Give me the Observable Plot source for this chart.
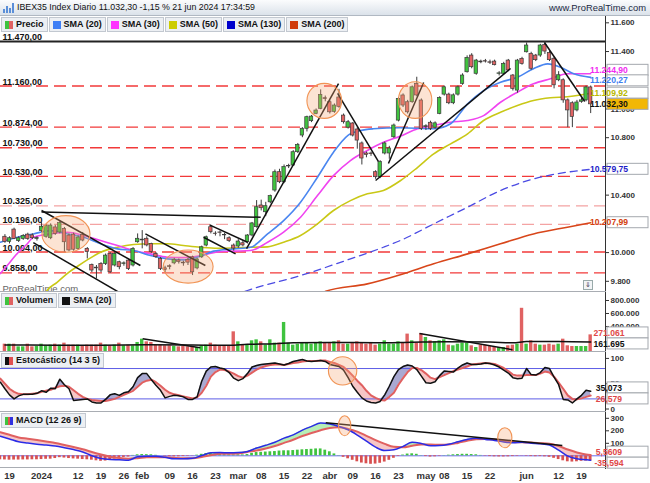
<!DOCTYPE html>
<html><head><meta charset="utf-8">
<script src="https://cdn.jsdelivr.net/npm/d3@7"></script>
<script src="https://cdn.jsdelivr.net/npm/@observablehq/plot@0.6"></script>
<style>
body{margin:0;background:#fff;}
#root{position:relative;width:650px;height:483px;overflow:hidden;font-family:"Liberation Sans",Arial,sans-serif;background:#fff}
.panel{position:absolute;left:0;width:650px}
.panel svg{display:block;overflow:visible}
.hdr{position:absolute;left:0;top:0;width:650px;height:16px;background:linear-gradient(#fbfcfd,#dbe2ea);border-bottom:1px solid #b0b8c2;box-sizing:border-box}
.hdr .t{position:absolute;left:17px;top:0;line-height:15px;font-size:8.8px;color:#111;white-space:nowrap}
.hdr .w{position:absolute;right:4px;top:0;line-height:15px;font-size:9.4px;color:#1c2a44;white-space:nowrap}
.legend{position:absolute;left:1px;display:flex;gap:1px}
.leg{height:13px;line-height:13px;border:1px solid #c2c8d0;background:#eceff3;font-size:9px;font-weight:bold;padding:0 3px 0 3px;display:flex;align-items:center;color:#111;white-space:nowrap}
.sw{width:8px;height:8px;margin-right:3px;display:inline-block}
.sep{position:absolute;left:0;width:606px;height:1px;background:#a9adb3}
.btn{position:absolute;left:583px;top:280px;width:8px;height:8px;border:1px solid #9aa;background:#f2f4f6;font-size:7px;line-height:8px;text-align:center;color:#445}
</style></head>
<body>
<div id="root">
  <div class="hdr"><svg width="12" height="12" style="position:absolute;left:3px;top:2px"><rect x="0" y="7" width="2" height="4" fill="#5b8fd8"/><rect x="3" y="4" width="2" height="7" fill="#5b8fd8"/><rect x="6" y="6" width="2" height="5" fill="#5b8fd8"/><rect x="9" y="1" width="2" height="10" fill="#5b8fd8"/></svg><div class="t">IBEX35 Index Diario 11.032,30 -1,15 % 21 jun 2024 17:34:59</div><div class="w">www.ProRealTime.com</div></div>
  <div id="p1" class="panel" style="top:16px"></div>
  <div id="p2" class="panel" style="top:292px"></div>
  <div id="p3" class="panel" style="top:352px"></div>
  <div id="p4" class="panel" style="top:412px"></div>
  <div class="sep" style="top:291px"></div>
  <div class="sep" style="top:351px"></div>
  <div class="sep" style="top:411px"></div>
  <div class="sep" style="top:467px"></div>
  <div class="legend" style="top:17px">
    <div class="leg"><span class="sw" style="background:linear-gradient(90deg,#3fc33f 50%,#e06262 50%)"></span>Precio</div>
    <div class="leg"><span class="sw" style="background:#3f7ff5"></span>SMA (20)</div>
    <div class="leg"><span class="sw" style="background:#ff33ff"></span>SMA (30)</div>
    <div class="leg"><span class="sw" style="background:#cccc00"></span>SMA (50)</div>
    <div class="leg"><span class="sw" style="background:#0000cc"></span>SMA (130)</div>
    <div class="leg"><span class="sw" style="background:#d03a0a"></span>SMA (200)</div>
  </div>
  <div class="legend" style="top:293px">
    <div class="leg"><span class="sw" style="background:linear-gradient(90deg,#3fc33f 50%,#e06262 50%)"></span>Volumen</div>
    <div class="leg"><span class="sw" style="background:#111"></span>SMA (20)</div>
  </div>
  <div class="legend" style="top:353px">
    <div class="leg"><span class="sw" style="background:linear-gradient(90deg,#111 50%,#e05050 50%)"></span>Estocástico (14 3 5)</div>
  </div>
  <div class="legend" style="top:413px">
    <div class="leg"><span class="sw" style="background:linear-gradient(90deg,#3fc33f 33%,#e05050 33%,#e05050 66%,#3030e0 66%)"></span>MACD (12 26 9)</div>
  </div>
  <div class="btn">&#8659;</div>
</div>
<script>
// ---------- DATA ----------
const holidays = ["2023-12-25","2023-12-26","2024-01-01","2024-03-29","2024-04-01","2024-05-01"];
const xTickDates = ["2023-12-19","2024-01-02","2024-01-12","2024-01-19","2024-01-26","2024-02-01","2024-02-09","2024-02-16","2024-02-23","2024-03-01","2024-03-08","2024-03-15","2024-03-22","2024-04-02","2024-04-09","2024-04-16","2024-04-23","2024-05-02","2024-05-08","2024-05-15","2024-05-22","2024-06-03","2024-06-12","2024-06-19"];
const xTickLabels = ["19","2024","12","19","26","feb","09","16","23","mar","08","15","22","abr","09","16","23","may","08","15","22","jun","12","19"];
// right-axis ticks that the reference leaves visible (the others sit under value tags)
const priceTicks = [9800, 10000, 10400, 10600, 10800, 11000, 11400, 11600];
const volumeTicks = [400, 600, 800];
const stochTicks = [0, 50, 100];
const macdTicks = [100, 200, 300];

// daily candles from 2023-12-18 to 2024-06-21
const open = [10110,10075,10160,10080,10095,10125,10120,10095,10150,10110,
10100,10175,10140,10165,10118,10125,10025,10123,10026,9914,
9895,9921,9921,9991,9910,9933,9921,9944,9910,10072,
10085,10096,10060,9991,9956,9890,9905,9925,9945,9930,
9950,9967,9890,9967,10049,10177,10132,10140,10123,10100,
10049,10042,10065,10072,10119,10177,10328,10281,10350,10432,
10560,10490,10600,10606,10699,10815,10862,10915,10966,11001,
11075,11047,10980,11080,10954,10870,10899,10857,10760,10690,
10690,10560,10525,10690,10690,10803,10919,11094,11047,11047,
11175,11059,10875,10904,10870,10966,11100,11100,11040,11100,
11175,11256,11372,11245,11330,11333,11325,11330,11245,11245,
11337,11233,11128,11349,11395,11384,11372,11372,11445,11390,
11350,11200,11200,11060,11040,10990,11050,11060,11150];
const high = [10125,10110,10170,10110,10125,10135,10130,10110,10210,10195,
10200,10190,10215,10175,10130,10135,10115,10140,10035,9920,
9910,9930,9990,10000,10000,9940,9935,9950,10035,10130,
10153,10110,10065,10000,9965,9905,9915,9960,9955,9940,
9960,9975,9960,10045,10115,10190,10145,10150,10135,10110,
10060,10090,10085,10125,10210,10362,10365,10350,10400,10575,
10580,10610,10615,10710,10760,10870,10950,10955,11000,11133,
11090,11060,11035,11137,10965,10920,10905,10870,10770,10700,
10700,10570,10640,10770,10740,10895,11080,11105,11060,11160,
11221,11070,10890,10915,10910,11085,11160,11110,11105,11160,
11245,11370,11385,11345,11340,11345,11340,11340,11260,11325,
11345,11240,11345,11360,11460,11395,11380,11450,11470,11400,
11360,11260,11210,11070,11050,11060,11075,11160,11160];
const low = [10065,10060,10090,10070,10085,10085,10090,10080,10140,10100,
10090,10120,10130,10003,10005,10010,10015,10075,9956,9860,
9817,9860,9910,9855,9900,9880,9905,9875,9900,10065,
10026,10040,9995,9960,9875,9860,9880,9915,9920,9905,
9910,9840,9880,9960,10040,10130,10115,10110,10090,10070,
10010,10030,10040,10060,10110,10170,10290,10250,10340,10420,
10480,10480,10585,10600,10690,10800,10840,10905,10960,10995,
11050,10965,10970,11005,10895,10860,10805,10720,10610,10660,
10670,10510,10515,10680,10650,10795,10910,11010,10965,11040,
11085,10850,10850,10850,10860,10960,11090,11030,11030,11090,
11165,11250,11280,11235,11315,11320,11310,11300,11230,11235,
11260,11125,11110,11305,11390,11270,11330,11360,11380,11330,
11140,11190,11040,10870,10870,10980,11040,11050,10968];
const close = [10075,10100,10095,10100,10115,10095,10100,10102,10180,10185,
10188,10130,10205,10072,10015,10020,10105,10084,10003,9875,
9890,9875,9979,9863,9991,9898,9925,9886,10026,10096,
10090,10050,10003,9968,9886,9880,9900,9950,9935,9925,
9930,9863,9952,10037,10107,10142,10130,10138,10120,10080,
10028,10077,10050,10119,10203,10316,10309,10323,10393,10560,
10490,10595,10603,10699,10750,10862,10943,10947,10989,11098,
11070,10977,11024,11015,10908,10908,10815,10780,10655,10680,
10686,10525,10630,10760,10725,10885,11070,11024,10977,11151,
11094,10860,10880,10862,10900,11077,11151,11040,11095,11151,
11233,11356,11291,11337,11325,11330,11322,11305,11248,11314,
11268,11140,11337,11314,11442,11280,11340,11442,11400,11340,
11165,11235,11060,10990,10945,11045,11060,11150,11032.30];

// volume (thousands), same days
const volumeK = [128,128,128,87,87,128,87,92,128,103,
113,128,113,144,113,113,113,92,113,113,
113,144,113,103,113,144,103,113,103,154,
205,164,154,113,113,103,103,92,87,92,
87,92,77,103,113,144,113,103,103,103,
318,164,113,113,180,195,164,113,195,144,
144,462,144,113,128,154,154,128,154,164,
144,144,164,180,128,128,144,164,144,128,
144,113,128,180,128,128,164,144,283,180,
144,292,231,180,164,180,195,113,103,128,
144,144,103,77,113,113,92,77,77,77,
103,113,128,680,128,180,128,113,113,128,
113,128,205,103,92,92,92,92,271.061];
const volumeSma = [[-1,115],[10,113],[20,112],[30,118],[40,115],[48,110],[52,125],[58,135],[62,150],[70,155],[80,150],[88,158],[95,165],[105,160],[110,150],[113,168],[120,170],[127,161.695]];

// moving averages of price, read at points along each curve [day index, value]
const sma20 = [[-2,10072],[1.7,10107],[5.2,10130],[9,10153],[12.7,10130],[16.2,10107],[19.9,10061],[23.6,10026],[27.1,10014],[30.8,9979],[34.5,9956],[38,9949],[41.7,9975],[44.6,10010],[49,10025],[52.7,10037],[56.4,10130],[59.9,10223],[63.6,10351],[67.3,10525],[70.8,10699],[73.9,10815],[76.7,10850],[79.5,10862],[85.4,10869],[92.7,10862],[96.4,10897],[100.1,11036],[103.6,11128],[107.3,11186],[111,11221],[114.5,11280],[117.6,11314],[120.4,11291],[123.3,11245],[127,11220.27]];
const sma30 = [[-2,9854],[-0.5,9910],[1.7,9994],[3.9,10061],[5.2,10107],[9,10130],[12.7,10142],[16.2,10119],[19.9,10084],[23.6,10049],[27.1,10014],[30.8,9991],[34.5,9968],[38,9965],[41.7,9979],[45.5,10005],[49,10010],[52.7,10014],[56.4,10072],[59.9,10142],[63.6,10246],[67.3,10397],[70.8,10536],[74.5,10641],[78.2,10711],[81.7,10768],[85.4,10810],[89.2,10862],[92.7,10885],[96.4,10908],[100.1,10920],[103.6,10954],[107.3,11047],[111,11117],[114.5,11175],[118.2,11210],[121.9,11245],[127,11244.90]];
const sma50 = [[7.5,9700],[8.2,9736],[10.4,9793],[12.6,9854],[14.8,9903],[17,9949],[19.9,10002],[23.6,10037],[27.1,10056],[30.8,10061],[34.5,10061],[38,10049],[41.7,10037],[45.5,10030],[49,10032],[52.7,10037],[56.4,10040],[59.9,10072],[63.6,10119],[67.3,10200],[70.8,10293],[74.5,10362],[78.2,10409],[81.7,10432],[85.4,10500],[89.2,10594],[92.7,10687],[96.4,10757],[100.1,10827],[103.6,10920],[107.3,10977],[111,11024],[114.5,11059],[118.2,11078],[121.9,11085],[127,11109.92]];
const sma130 = [[49,9700],[52,9736],[63.6,9840],[74.5,9956],[81.7,10037],[85.4,10084],[92.7,10200],[100.1,10316],[107.3,10432],[114.5,10513],[121.9,10560],[127,10579.75]];
const sma200 = [[68,9700],[69.1,9730],[78.2,9782],[85.4,9846],[92.7,9922],[100.1,9991],[107.3,10061],[114.5,10130],[121.9,10177],[127,10207.99]];

// horizontal support / resistance levels
const levels = [11470, 11160, 10874, 10730, 10530, 10325, 10196, 10004, 9858];
// drawn trend lines [day1, price1, day2, price2]
const trendLines = [[7.0,10282,54.9,10246],[7.0,10293,28.6,9910],[5.2,10070,26.0,9685],[29.7,10130,42.8,9910],[43.7,10193,52.0,10072],[42.4,10107,49.4,9991],[51.8,10028,71.9,11177],[71.7,11108,80.6,10635],[80.0,10502,109.5,11282],[82.8,10620,90.5,11184],[116.9,11463,125.7,11052]];
// drawn ellipses [day1, day2, top, bottom]
const priceEllipses = [[7.2,17.7,10254,9999],[33.7,44.6,10014,9784],[65.1,72.7,11175,10931],[85.1,92.4,11186,10931]];
const volumeTrend = [[29.1,211,41.7,72],[89.6,292,109.9,42]];

// stochastic %K and %D from 2023-12-15
const stochK = [53,40,28,20,26,29,29,29,31,36,
33,41,40,59,48,40,17,18,19,20,
14,12,12,19,28,30,27,32,34,44,
62,70,70,58,47,37,22,25,27,26,
24,19,19,24,55,75,83,84,81,79,
72,61,56,60,70,83,86,88,89,90,
91,89,87,90,94,96,98,95,94,95,
96,94,88,86,84,77,62,45,33,22,
16,13,12,15,28,45,64,78,84,87,
85,78,65,52,51,54,66,75,74,73,
81,87,91,88,88,89,91,90,87,83,
77,71,62,60,61,80,68,67,72,82,
80,63,48,19,18,12,20,27,37,35.073];
const stochD = [60,50,40,34,30,29,29,30,31,34,
36,38,42,45,46,44,37,30,24,20,
18,17,16,16,18,20,24,28,32,36,
44,52,56,58,53,46,38,32,29,27,
25,23,21,23,32,46,64,73,78,77,
74,70,65,62,66,72,78,82,85,87,
88,88,87,89,91,92,94,95,95,95,
96,96,93,91,87,83,75,66,56,47,
36,27,22,18,17,24,32,48,61,73,
81,81,77,70,62,59,63,67,71,75,
78,81,84,88,89,90,91,90,89,85,
81,75,68,66,66,67,67,67,70,74,
72,64,52,40,27,20,19,21,24,26.579];
const stochEllipses = [[69.8,76.0,102.4,46.4]];

// MACD (12 26 9)
const macdIdx = [-2,0,2,4,6,8,10,12,14,16,18,20,22,24,26,28,30,32,34,36,38,40,42,44,46,48,50,52,54,56,58,60,62,64,66,68,70,72,74,76,78,80,82,84,86,88,90,92,94,96,98,100,102,104,106,108,110,112,114,116,118,120,122,124,126,127];
const macdLine = [157,135,112,102,93,86,78,65,50,31,0,-22,-30,-32,-35,-8,-3,-3,-12,-24,-24,-20,2,24,26,24,26,35,62,84,108,141,167,205,235,262,254,235,208,166,117,69,42,48,75,108,98,80,82,93,112,131,141,131,123,111,105,108,101,96,86,45,-3,-24,-32,-35.594];
const macdSignal = [189,168,147,137,126,114,103,87,70,52,30,10,-7,-18,-23,-19,-12,-11,-11,-16,-19,-19,-10,5,16,16,18,31,42,58,78,103,128,158,183,205,222,228,215,193,160,125,95,72,68,80,90,90,88,90,103,120,132,135,131,120,111,108,106,101,96,78,50,27,10,5.5609];
const macdHist = [-32,-33,-35,-34,-34,-33,-33,-32,-32,-30,
-28,-27,-22,-15,-18,-22,-25,-27,-30,-32,
-35,-40,-44,-42,-36,-26,-18,-13,-10,3,
8,10,9,8,4,0,-3,-6,-8,-8,
-6,-4,-2,5,12,18,20,15,11,9,
8,7,8,7,10,20,26,28,30,32,
34,38,40,40,42,45,48,50,52,55,
55,45,32,15,2,-12,-24,-36,-48,-58,
-64,-68,-66,-60,-50,-36,-20,-5,6,14,
16,12,2,-6,-10,-8,-4,2,5,8,
10,12,12,10,8,3,-3,-6,-8,-9,
-9,-8,-6,-4,-2,-4,-6,-7,-6,-8,
-12,-20,-30,-40,-48,-50,-48,-44,-42,-41];
const macdTrend = [[69.1,264,120.8,82]];
const macdEllipses = [[72.0,74.7,317,157],[106.8,109.9,221,61]];

// last values shown on the right axis
const priceTagValues = [11244.90, 11220.27, 11109.92, 11032.30, 10579.75, 10207.99];
const volumeTagValues = [271.061, 161.695];
const stochTagValues = [35.073, 26.579];
const macdTagValues = [5.5609, -35.594];

// ---------- BUILD ----------
const days = [];
for (let d = new Date(Date.UTC(2023,11,18)); d <= new Date(Date.UTC(2024,5,21)); d.setUTCDate(d.getUTCDate()+1)) {
  const wd = d.getUTCDay(), s = d.toISOString().slice(0,10);
  if (wd !== 0 && wd !== 6 && !holidays.includes(s)) days.push(s);
}
const idxOf = s => days.indexOf(s) - 1; // 2023-12-19 -> 0
const xTicks = xTickDates.map(idxOf);
const xLabel = new Map(xTicks.map((t, j) => [t, xTickLabels[j]]));

const loc = d3.formatLocale({decimal: ",", thousands: ".", grouping: [3], currency: ["", ""], minus: "-"});
const fmt2 = loc.format(",.2f"), fmt0 = loc.format(",d"), fmt5 = loc.format(".5r");

const candles = open.map((o, j) => ({i: j - 1, date: days[j], o, h: high[j], l: low[j], c: close[j]}));
const vols = volumeK.map((v, j) => ({i: j - 1, v, up: close[j] >= open[j]}));
const stoch = stochK.map((k, j) => ({i: j - 2, k, d: stochD[j]}));
const macd = macdIdx.map((i, j) => ({i, m: macdLine[j], s: macdSignal[j]}));
const hist = macdHist.map((v, j) => ({i: j - 2, v}));

const X = {domain: [-1.967, 130.24]};
const W = 0.37;
const GREEN = "#3fc33f", RED = "#e06262";
const baseStyle = {fontFamily: "Liberation Sans, Arial, sans-serif", fontSize: "8px", fontWeight: "bold", color: "#333", background: "transparent", overflow: "visible"};

function tagsMark(values, fmt, colors, bgs, gap = 11) {
  return (index, scales, vals, dims) => {
    const yf = typeof scales.y === "function" ? scales.y : (v => scales.scales.y.apply(v));
    const order = values.map((v, j) => ({j, y: yf(v)})).sort((a, b) => a.y - b.y);
    for (let it = 0; it < 80; it++) for (let j = 1; j < order.length; j++) {
      const dd = order[j].y - order[j-1].y;
      if (dd < gap) { const s = (gap - dd) / 2; order[j-1].y -= s; order[j].y += s; }
    }
    const g = d3.create("svg:g").attr("class", "valtags");
    const x0 = dims.width - dims.marginRight + 2;
    for (const {j, y} of order) {
      g.append("rect").attr("x", x0).attr("y", y - 5.5).attr("width", 41).attr("height", 11)
        .attr("fill", bgs[j]).attr("stroke", "#a4a8ae").attr("stroke-width", 1);
      g.append("text").attr("x", x0 + 2).attr("y", y).attr("dy", "0.36em").attr("fill", colors[j])
        .attr("font-size", 8.6).attr("font-weight", "bold").text(fmt(values[j]));
    }
    return g.node();
  };
}
// value tags sit above the axis tick labels, as in the reference
const raiseTags = svg => { svg.querySelectorAll("g.valtags").forEach(g => svg.appendChild(g)); return svg; };

const ellipseStyle = {rx: 200, fill: "#f7a777", fillOpacity: 0.32, stroke: "#f19455", strokeWidth: 1.1};
const ell = (data) => Plot.rect(data, {x1: d => d[0], x2: d => d[1], y1: d => d[2], y2: d => d[3], ...ellipseStyle});

// ---- price panel
const levelColor = v => v === 11470 ? "#222" : (v === 10325 || v === 10196) ? "#f4a3a3" : "#f23a3a";
const price = Plot.plot({
  width: 650, height: 276, marginLeft: 0, marginRight: 45, marginTop: 0, marginBottom: 0,
  x: {...X, axis: null},
  y: {domain: [9722, 11644], axis: "right", ticks: priceTicks, tickFormat: fmt0, tickSize: 3, tickPadding: 2, label: null, line: true},
  style: baseStyle,
  marks: [
    Plot.ruleY(levels.filter(v => v !== 11470), {y: d => d, stroke: levelColor, strokeWidth: 1.3, strokeDasharray: "12,6"}),
    Plot.ruleY(levels.filter(v => v === 11470), {y: d => d, stroke: "#222", strokeWidth: 2}),
    Plot.text(levels, {y: d => d, text: d => fmt2(d), frameAnchor: "left", dx: 2, dy: -1.5, textAnchor: "start", lineAnchor: "bottom", fontSize: 9, fontWeight: "bold", fill: "#111"}),
    Plot.text(["ProRealTime.com"], {text: d => d, frameAnchor: "bottom-left", dx: 2, dy: -1, textAnchor: "start", lineAnchor: "bottom", fontSize: 9.5, fontWeight: "normal", fill: "#666"}),
    Plot.line(sma200, {x: d => d[0], y: d => d[1], stroke: "#d8461a", strokeWidth: 1.6, curve: "monotone-x", clip: true}),
    Plot.line(sma130, {x: d => d[0], y: d => d[1], stroke: "#4b4be3", strokeWidth: 1.3, strokeDasharray: "7,5", curve: "monotone-x", clip: true}),
    Plot.line(sma50, {x: d => d[0], y: d => d[1], stroke: "#c9c816", strokeWidth: 1.6, curve: "monotone-x", clip: true}),
    Plot.line(sma30, {x: d => d[0], y: d => d[1], stroke: "#f044f0", strokeWidth: 1.6, curve: "monotone-x", clip: true}),
    Plot.line(sma20, {x: d => d[0], y: d => d[1], stroke: "#4a86f0", strokeWidth: 1.6, curve: "monotone-x", clip: true}),
    Plot.ruleX(candles, {x: "i", y1: "l", y2: "h", stroke: "#3a3a3a", strokeWidth: 1}),
    Plot.rect(candles.filter(d => d.c >= d.o), {x1: d => d.i - W, x2: d => d.i + W, y1: "o", y2: "c", fill: GREEN, stroke: "#3a3a3a", strokeWidth: 0.7}),
    Plot.rect(candles.filter(d => d.c < d.o), {x1: d => d.i - W, x2: d => d.i + W, y1: "o", y2: "c", fill: RED, stroke: "#3a3a3a", strokeWidth: 0.7}),
    Plot.link(trendLines, {x1: d => d[0], y1: d => d[1], x2: d => d[2], y2: d => d[3], stroke: "#111", strokeWidth: 1.5, clip: true}),
    ell(priceEllipses),
    tagsMark(priceTagValues, fmt2, ["#f02cf0","#3d7ef0","#b8b800","#111","#1e1ec8","#d2400e"], ["#fff","#fff","#fff","#f2b705","#fff","#fff"], 10.5)
  ]
});
document.getElementById("p1").append(raiseTags(price));

// ---- volume panel
const volume = Plot.plot({
  width: 650, height: 60, marginLeft: 0, marginRight: 45, marginTop: 0, marginBottom: 0,
  x: {...X, axis: null},
  y: {domain: [0, 923], axis: "right", ticks: volumeTicks, tickFormat: d => fmt0(d * 1000), tickSize: 3, tickPadding: 2, label: null, line: true},
  style: baseStyle,
  marks: [
    Plot.rect(vols.filter(d => d.up), {x1: d => d.i - W, x2: d => d.i + W, y1: 0, y2: "v", fill: GREEN}),
    Plot.rect(vols.filter(d => !d.up), {x1: d => d.i - W, x2: d => d.i + W, y1: 0, y2: "v", fill: RED}),
    Plot.line(volumeSma, {x: d => d[0], y: d => d[1], stroke: "#111", strokeWidth: 1.5, curve: "monotone-x"}),
    Plot.link(volumeTrend, {x1: d => d[0], y1: d => d[1], x2: d => d[2], y2: d => d[3], stroke: "#111", strokeWidth: 1.5}),
    tagsMark(volumeTagValues, d => fmt0(Math.round(d * 1000)), ["#e04848", "#111"], ["#fff", "#fff"])
  ]
});
document.getElementById("p2").append(raiseTags(volume));

// ---- stochastic panel
const st = Plot.plot({
  width: 650, height: 60, marginLeft: 0, marginRight: 45, marginTop: 0, marginBottom: 0,
  x: {...X, axis: null},
  y: {domain: [-6.9, 111.7], axis: "right", ticks: stochTicks, tickFormat: fmt0, tickSize: 3, tickPadding: 2, label: null, line: true},
  style: baseStyle,
  marks: [
    Plot.areaY(stoch, {x: "i", y1: "d", y2: d => Math.max(d.k, d.d), fill: "#a9a9d2"}),
    Plot.areaY(stoch, {x: "i", y1: d => Math.min(d.k, d.d), y2: "d", fill: "#f6c6c6"}),
    Plot.ruleY([80, 20], {stroke: "#5c5ce6", strokeWidth: 1}),
    Plot.line(stoch, {x: "i", y: "d", stroke: "#e06060", strokeWidth: 2}),
    Plot.line(stoch, {x: "i", y: "k", stroke: "#111", strokeWidth: 1.5}),
    ell(stochEllipses),
    tagsMark(stochTagValues, fmt5, ["#111", "#e04848"], ["#fff", "#fff"])
  ]
});
document.getElementById("p3").append(raiseTags(st));

// ---- MACD panel with the date axis
const md = Plot.plot({
  width: 650, height: 71, marginLeft: 0, marginRight: 45, marginTop: 0, marginBottom: 15,
  x: {...X, axis: "bottom", ticks: xTicks, tickFormat: d => xLabel.get(d), tickSize: 0, tickPadding: 4, label: null},
  y: {domain: [-101.6, 346.4], axis: "right", ticks: macdTicks, tickFormat: fmt0, tickSize: 3, tickPadding: 2, label: null, line: true},
  style: {...baseStyle, fontSize: "9.5px"},
  marks: [
    Plot.areaY(macd, {x: "i", y1: "s", y2: d => Math.max(d.m, d.s), fill: "#b6eeb6", curve: "monotone-x"}),
    Plot.areaY(macd, {x: "i", y1: d => Math.min(d.m, d.s), y2: "s", fill: "#f6c6c6", curve: "monotone-x"}),
    Plot.ruleY([0], {stroke: "#6a6aee", strokeWidth: 1}),
    Plot.rect(hist.filter(d => d.v >= 0), {x1: d => d.i - 0.3, x2: d => d.i + 0.3, y1: 0, y2: "v", fill: GREEN}),
    Plot.rect(hist.filter(d => d.v < 0), {x1: d => d.i - 0.3, x2: d => d.i + 0.3, y1: 0, y2: "v", fill: "#d85050"}),
    Plot.line(macd, {x: "i", y: "s", stroke: "#e06060", strokeWidth: 2, curve: "monotone-x"}),
    Plot.line(macd, {x: "i", y: "m", stroke: "#2b2be6", strokeWidth: 1.5, curve: "monotone-x"}),
    Plot.link(macdTrend, {x1: d => d[0], y1: d => d[1], x2: d => d[2], y2: d => d[3], stroke: "#111", strokeWidth: 1.5}),
    ell(macdEllipses),
    tagsMark(macdTagValues, fmt5, ["#e04848", "#e04848"], ["#fff", "#fff"])
  ]
});
md.querySelectorAll('g[aria-label="y-axis tick label"]').forEach(n => n.setAttribute("font-size", "8"));
document.getElementById("p4").append(raiseTags(md));
</script>
</body></html>
